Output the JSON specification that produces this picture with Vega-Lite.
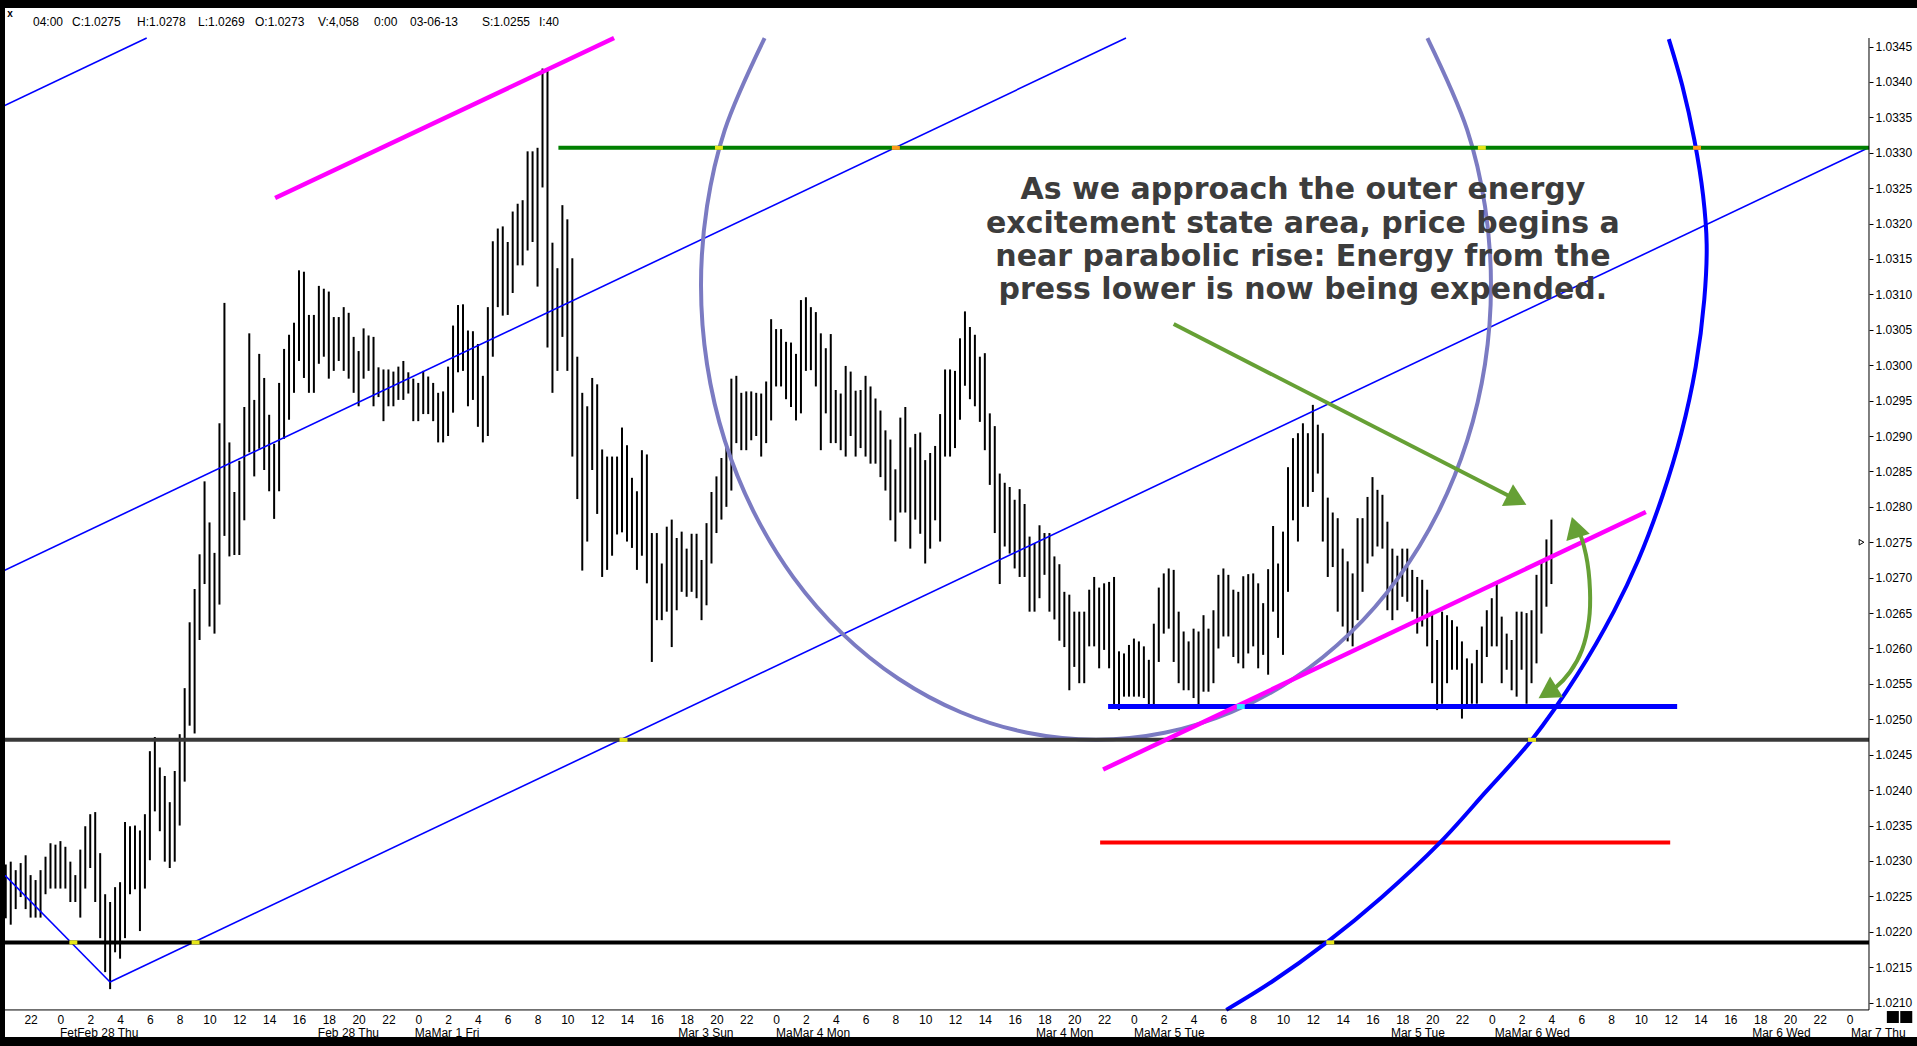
{
"$schema": "https://vega.github.io/schema/vega-lite/v6.json",
"width": 1912, "height": 1029, "autosize": "none",
"padding": {"left": 5, "top": 8, "right": 0, "bottom": 9},
"background": "#000000",
"config": {"view": {"fill": "white", "stroke": null}, "axis": {"grid": false, "domain": false, "title": null}},
"datasets": {
"bars": [
{"x":0,"y":1.02295,"y2":1.02219},{"x":1,"y":1.02299,"y2":1.02210},{"x":2,"y":1.02287,"y2":1.02232},{"x":3,"y":1.02297,"y2":1.02249},{"x":4,"y":1.02308,"y2":1.02232},{"x":5,"y":1.02280,"y2":1.02220},{"x":6,"y":1.02273,"y2":1.02220},{"x":7,"y":1.02287,"y2":1.02220},{"x":8,"y":1.02306,"y2":1.02253},{"x":9,"y":1.02325,"y2":1.02261},
{"x":10,"y":1.02323,"y2":1.02261},{"x":11,"y":1.02328,"y2":1.02261},{"x":12,"y":1.02320,"y2":1.02261},{"x":13,"y":1.02299,"y2":1.02242},{"x":14,"y":1.02280,"y2":1.02242},{"x":15,"y":1.02316,"y2":1.02220},{"x":16,"y":1.02349,"y2":1.02261},{"x":17,"y":1.02366,"y2":1.02290},{"x":18,"y":1.02369,"y2":1.02242},{"x":19,"y":1.02311,"y2":1.02191},
{"x":20,"y":1.02253,"y2":1.02143},{"x":21,"y":1.02242,"y2":1.02119},{"x":22,"y":1.02263,"y2":1.02171},{"x":23,"y":1.02270,"y2":1.02162},{"x":24,"y":1.02355,"y2":1.02191},{"x":25,"y":1.02349,"y2":1.02253},{"x":26,"y":1.02350,"y2":1.02260},{"x":27,"y":1.02343,"y2":1.02201},{"x":28,"y":1.02366,"y2":1.02261},{"x":29,"y":1.02455,"y2":1.02301},
{"x":30,"y":1.02475,"y2":1.02370},{"x":31,"y":1.02432,"y2":1.02342},{"x":32,"y":1.02420,"y2":1.02299},{"x":33,"y":1.02383,"y2":1.02290},{"x":34,"y":1.02427,"y2":1.02299},{"x":35,"y":1.02479,"y2":1.02350},{"x":36,"y":1.02544,"y2":1.02412},{"x":37,"y":1.02637,"y2":1.02491},{"x":38,"y":1.02684,"y2":1.02480},{"x":39,"y":1.02733,"y2":1.02612},
{"x":40,"y":1.02836,"y2":1.02691},{"x":41,"y":1.02778,"y2":1.02631},{"x":42,"y":1.02735,"y2":1.02621},{"x":43,"y":1.02918,"y2":1.02662},{"x":44,"y":1.03088,"y2":1.02759},{"x":45,"y":1.02891,"y2":1.02730},{"x":46,"y":1.02821,"y2":1.02732},{"x":47,"y":1.02865,"y2":1.02732},{"x":48,"y":1.02941,"y2":1.02781},{"x":49,"y":1.03045,"y2":1.02877},
{"x":50,"y":1.02951,"y2":1.02843},{"x":51,"y":1.03016,"y2":1.02882},{"x":52,"y":1.02982,"y2":1.02852},{"x":53,"y":1.02930,"y2":1.02822},{"x":54,"y":1.02889,"y2":1.02783},{"x":55,"y":1.02975,"y2":1.02822},{"x":56,"y":1.03023,"y2":1.02896},{"x":57,"y":1.03043,"y2":1.02923},{"x":58,"y":1.03060,"y2":1.02961},{"x":59,"y":1.03134,"y2":1.03006},
{"x":60,"y":1.03132,"y2":1.02982},{"x":61,"y":1.03071,"y2":1.02961},{"x":62,"y":1.03071,"y2":1.02961},{"x":63,"y":1.03112,"y2":1.03002},{"x":64,"y":1.03108,"y2":1.03012},{"x":65,"y":1.03104,"y2":1.02981},{"x":66,"y":1.03068,"y2":1.02992},{"x":67,"y":1.03068,"y2":1.03006},{"x":68,"y":1.03082,"y2":1.02992},{"x":69,"y":1.03074,"y2":1.02981},
{"x":70,"y":1.03040,"y2":1.02961},{"x":71,"y":1.03020,"y2":1.02942},{"x":72,"y":1.03052,"y2":1.02981},{"x":73,"y":1.03042,"y2":1.02992},{"x":74,"y":1.03040,"y2":1.02942},{"x":75,"y":1.02997,"y2":1.02955},{"x":76,"y":1.02994,"y2":1.02921},{"x":77,"y":1.02994,"y2":1.02942},{"x":78,"y":1.02991,"y2":1.02942},{"x":79,"y":1.02998,"y2":1.02951},
{"x":80,"y":1.03006,"y2":1.02951},{"x":81,"y":1.02990,"y2":1.02960},{"x":82,"y":1.02981,"y2":1.02921},{"x":83,"y":1.02975,"y2":1.02921},{"x":84,"y":1.02992,"y2":1.02931},{"x":85,"y":1.02984,"y2":1.02931},{"x":86,"y":1.02975,"y2":1.02921},{"x":87,"y":1.02961,"y2":1.02891},{"x":88,"y":1.02963,"y2":1.02891},{"x":89,"y":1.02998,"y2":1.02900},
{"x":90,"y":1.03056,"y2":1.02933},{"x":91,"y":1.03085,"y2":1.02990},{"x":92,"y":1.03086,"y2":1.02992},{"x":93,"y":1.03049,"y2":1.02942},{"x":94,"y":1.03048,"y2":1.02951},{"x":95,"y":1.03030,"y2":1.02913},{"x":96,"y":1.02985,"y2":1.02891},{"x":97,"y":1.03082,"y2":1.02900},{"x":98,"y":1.03175,"y2":1.03012},{"x":99,"y":1.03193,"y2":1.03082},
{"x":100,"y":1.03196,"y2":1.03070},{"x":101,"y":1.03174,"y2":1.03071},{"x":102,"y":1.03217,"y2":1.03102},{"x":103,"y":1.03228,"y2":1.03141},{"x":104,"y":1.03233,"y2":1.03141},{"x":105,"y":1.03302,"y2":1.03162},{"x":106,"y":1.03302,"y2":1.03174},{"x":107,"y":1.03307,"y2":1.03111},{"x":108,"y":1.03419,"y2":1.03251},{"x":109,"y":1.03419,"y2":1.03025},
{"x":110,"y":1.03173,"y2":1.02961},{"x":111,"y":1.03137,"y2":1.02992},{"x":112,"y":1.03226,"y2":1.03040},{"x":113,"y":1.03206,"y2":1.02992},{"x":114,"y":1.03151,"y2":1.02871},{"x":115,"y":1.03012,"y2":1.02811},{"x":116,"y":1.02961,"y2":1.02710},{"x":117,"y":1.02942,"y2":1.02751},{"x":118,"y":1.02982,"y2":1.02852},{"x":119,"y":1.02973,"y2":1.02790},
{"x":120,"y":1.02881,"y2":1.02701},{"x":121,"y":1.02871,"y2":1.02711},{"x":122,"y":1.02871,"y2":1.02731},{"x":123,"y":1.02871,"y2":1.02761},{"x":124,"y":1.02912,"y2":1.02764},{"x":125,"y":1.02887,"y2":1.02751},{"x":126,"y":1.02841,"y2":1.02742},{"x":127,"y":1.02822,"y2":1.02711},{"x":128,"y":1.02880,"y2":1.02731},{"x":129,"y":1.02874,"y2":1.02692},
{"x":130,"y":1.02763,"y2":1.02581},{"x":131,"y":1.02763,"y2":1.02640},{"x":132,"y":1.02720,"y2":1.02640},{"x":133,"y":1.02772,"y2":1.02652},{"x":134,"y":1.02782,"y2":1.02602},{"x":135,"y":1.02756,"y2":1.02654},{"x":136,"y":1.02765,"y2":1.02680},{"x":137,"y":1.02741,"y2":1.02673},{"x":138,"y":1.02762,"y2":1.02680},{"x":139,"y":1.02762,"y2":1.02671},
{"x":140,"y":1.02725,"y2":1.02640},{"x":141,"y":1.02777,"y2":1.02661},{"x":142,"y":1.02821,"y2":1.02720},{"x":143,"y":1.02843,"y2":1.02763},{"x":144,"y":1.02869,"y2":1.02782},{"x":145,"y":1.02885,"y2":1.02800},{"x":146,"y":1.02981,"y2":1.02823},{"x":147,"y":1.02985,"y2":1.02890},{"x":148,"y":1.02961,"y2":1.02880},{"x":149,"y":1.02963,"y2":1.02880},
{"x":150,"y":1.02963,"y2":1.02894},{"x":151,"y":1.02961,"y2":1.02900},{"x":152,"y":1.02960,"y2":1.02871},{"x":153,"y":1.02977,"y2":1.02890},{"x":154,"y":1.03065,"y2":1.02922},{"x":155,"y":1.03051,"y2":1.02970},{"x":156,"y":1.03051,"y2":1.02970},{"x":157,"y":1.03033,"y2":1.02952},{"x":158,"y":1.03032,"y2":1.02941},{"x":159,"y":1.03016,"y2":1.02922},
{"x":160,"y":1.03092,"y2":1.02932},{"x":161,"y":1.03096,"y2":1.02992},{"x":162,"y":1.03082,"y2":1.02993},{"x":163,"y":1.03075,"y2":1.02970},{"x":164,"y":1.03045,"y2":1.02880},{"x":165,"y":1.03024,"y2":1.02932},{"x":166,"y":1.03044,"y2":1.02890},{"x":167,"y":1.02965,"y2":1.02890},{"x":168,"y":1.02960,"y2":1.02880},{"x":169,"y":1.02999,"y2":1.02871},
{"x":170,"y":1.02991,"y2":1.02900},{"x":171,"y":1.02964,"y2":1.02871},{"x":172,"y":1.02965,"y2":1.02883},{"x":173,"y":1.02985,"y2":1.02871},{"x":174,"y":1.02970,"y2":1.02861},{"x":175,"y":1.02953,"y2":1.02861},{"x":176,"y":1.02936,"y2":1.02842},{"x":177,"y":1.02908,"y2":1.02823},{"x":178,"y":1.02895,"y2":1.02781},{"x":179,"y":1.02853,"y2":1.02751},
{"x":180,"y":1.02926,"y2":1.02792},{"x":181,"y":1.02941,"y2":1.02792},{"x":182,"y":1.02884,"y2":1.02741},{"x":183,"y":1.02903,"y2":1.02782},{"x":184,"y":1.02905,"y2":1.02762},{"x":185,"y":1.02866,"y2":1.02720},{"x":186,"y":1.02876,"y2":1.02741},{"x":187,"y":1.02886,"y2":1.02781},{"x":188,"y":1.02931,"y2":1.02751},{"x":189,"y":1.02994,"y2":1.02871},
{"x":190,"y":1.02994,"y2":1.02871},{"x":191,"y":1.02992,"y2":1.02883},{"x":192,"y":1.03038,"y2":1.02923},{"x":193,"y":1.03076,"y2":1.02971},{"x":194,"y":1.03054,"y2":1.02952},{"x":195,"y":1.03043,"y2":1.02942},{"x":196,"y":1.03012,"y2":1.02920},{"x":197,"y":1.03017,"y2":1.02880},{"x":198,"y":1.02932,"y2":1.02831},{"x":199,"y":1.02914,"y2":1.02763},
{"x":200,"y":1.02847,"y2":1.02691},{"x":201,"y":1.02834,"y2":1.02744},{"x":202,"y":1.02828,"y2":1.02734},{"x":203,"y":1.02810,"y2":1.02713},{"x":204,"y":1.02825,"y2":1.02701},{"x":205,"y":1.02804,"y2":1.02701},{"x":206,"y":1.02758,"y2":1.02652},{"x":207,"y":1.02749,"y2":1.02652},{"x":208,"y":1.02774,"y2":1.02671},{"x":209,"y":1.02763,"y2":1.02704},
{"x":210,"y":1.02763,"y2":1.02652},{"x":211,"y":1.02730,"y2":1.02641},{"x":212,"y":1.02719,"y2":1.02611},{"x":213,"y":1.02680,"y2":1.02602},{"x":214,"y":1.02676,"y2":1.02541},{"x":215,"y":1.02652,"y2":1.02574},{"x":216,"y":1.02652,"y2":1.02551},{"x":217,"y":1.02652,"y2":1.02551},{"x":218,"y":1.02683,"y2":1.02603},{"x":219,"y":1.02701,"y2":1.02603},
{"x":220,"y":1.02686,"y2":1.02572},{"x":221,"y":1.02692,"y2":1.02598},{"x":222,"y":1.02694,"y2":1.02572},{"x":223,"y":1.02701,"y2":1.02519},{"x":224,"y":1.02596,"y2":1.02513},{"x":225,"y":1.02593,"y2":1.02532},{"x":226,"y":1.02605,"y2":1.02532},{"x":227,"y":1.02614,"y2":1.02532},{"x":228,"y":1.02610,"y2":1.02532},{"x":229,"y":1.02603,"y2":1.02530},
{"x":230,"y":1.02584,"y2":1.02519},{"x":231,"y":1.02635,"y2":1.02519},{"x":232,"y":1.02686,"y2":1.02581},{"x":233,"y":1.02706,"y2":1.02621},{"x":234,"y":1.02713,"y2":1.02628},{"x":235,"y":1.02711,"y2":1.02581},{"x":236,"y":1.02652,"y2":1.02551},{"x":237,"y":1.02624,"y2":1.02541},{"x":238,"y":1.02610,"y2":1.02541},{"x":239,"y":1.02628,"y2":1.02530},
{"x":240,"y":1.02624,"y2":1.02519},{"x":241,"y":1.02647,"y2":1.02539},{"x":242,"y":1.02628,"y2":1.02539},{"x":243,"y":1.02654,"y2":1.02551},{"x":244,"y":1.02704,"y2":1.02600},{"x":245,"y":1.02713,"y2":1.02617},{"x":246,"y":1.02704,"y2":1.02617},{"x":247,"y":1.02683,"y2":1.02588},{"x":248,"y":1.02680,"y2":1.02579},{"x":249,"y":1.02702,"y2":1.02572},
{"x":250,"y":1.02705,"y2":1.02593},{"x":251,"y":1.02706,"y2":1.02603},{"x":252,"y":1.02692,"y2":1.02572},{"x":253,"y":1.02664,"y2":1.02591},{"x":254,"y":1.02712,"y2":1.02563},{"x":255,"y":1.02773,"y2":1.02652},{"x":256,"y":1.02720,"y2":1.02615},{"x":257,"y":1.02765,"y2":1.02591},{"x":258,"y":1.02856,"y2":1.02680},{"x":259,"y":1.02897,"y2":1.02781},
{"x":260,"y":1.02904,"y2":1.02751},{"x":261,"y":1.02918,"y2":1.02800},{"x":262,"y":1.02904,"y2":1.02800},{"x":263,"y":1.02944,"y2":1.02821},{"x":264,"y":1.02916,"y2":1.02847},{"x":265,"y":1.02904,"y2":1.02751},{"x":266,"y":1.02813,"y2":1.02701},{"x":267,"y":1.02792,"y2":1.02715},{"x":268,"y":1.02784,"y2":1.02652},{"x":269,"y":1.02741,"y2":1.02631},
{"x":270,"y":1.02723,"y2":1.02610},{"x":271,"y":1.02706,"y2":1.02603},{"x":272,"y":1.02784,"y2":1.02640},{"x":273,"y":1.02784,"y2":1.02680},{"x":274,"y":1.02814,"y2":1.02720},{"x":275,"y":1.02842,"y2":1.02730},{"x":276,"y":1.02824,"y2":1.02744},{"x":277,"y":1.02817,"y2":1.02741},{"x":278,"y":1.02779,"y2":1.02654},{"x":279,"y":1.02741,"y2":1.02640},
{"x":280,"y":1.02731,"y2":1.02654},{"x":281,"y":1.02741,"y2":1.02673},{"x":282,"y":1.02741,"y2":1.02666},{"x":283,"y":1.02711,"y2":1.02652},{"x":284,"y":1.02701,"y2":1.02621},{"x":285,"y":1.02697,"y2":1.02631},{"x":286,"y":1.02683,"y2":1.02603},{"x":287,"y":1.02652,"y2":1.02551},{"x":288,"y":1.02612,"y2":1.02513},{"x":289,"y":1.02652,"y2":1.02522},
{"x":290,"y":1.02647,"y2":1.02551},{"x":291,"y":1.02640,"y2":1.02570},{"x":292,"y":1.02631,"y2":1.02570},{"x":293,"y":1.02610,"y2":1.02501},{"x":294,"y":1.02586,"y2":1.02520},{"x":295,"y":1.02579,"y2":1.02522},{"x":296,"y":1.02598,"y2":1.02522},{"x":297,"y":1.02631,"y2":1.02551},{"x":298,"y":1.02654,"y2":1.02588},{"x":299,"y":1.02671,"y2":1.02603},
{"x":300,"y":1.02692,"y2":1.02603},{"x":301,"y":1.02645,"y2":1.02551},{"x":302,"y":1.02621,"y2":1.02570},{"x":303,"y":1.02612,"y2":1.02541},{"x":304,"y":1.02652,"y2":1.02532},{"x":305,"y":1.02652,"y2":1.02570},{"x":306,"y":1.02650,"y2":1.02522},{"x":307,"y":1.02654,"y2":1.02551},{"x":308,"y":1.02704,"y2":1.02579},{"x":309,"y":1.02723,"y2":1.02621},
{"x":310,"y":1.02754,"y2":1.02659},{"x":311,"y":1.02782,"y2":1.02691}
],
"thinBlue": [
{"x":-1.157,"y":1.033637,"x2":28.36,"y2":1.03462},
{"x":-1.157,"y":1.027074,"x2":225.4,"y2":1.03462},
{"x":20.98,"y":1.021291,"x2":374.9,"y2":1.033075},
{"x":-1.157,"y":1.022869,"x2":20.98,"y2":1.021291}
],
"magenta": [
{"x":54.2,"y":1.03236,"x2":122.4,"y2":1.03462},
{"x":220.8,"y":1.024291,"x2":330.0,"y2":1.027927}
],
"greenH": [{"x":111.2,"y":1.03307,"x2":374.9,"y2":1.03307}],
"greyH": [{"x":-0.15,"y":1.02471,"x2":374.9,"y2":1.02471}],
"blackH": [{"x":-0.15,"y":1.02185,"x2":374.9,"y2":1.02185}],
"redH": [{"x":220.2,"y":1.02326,"x2":334.9,"y2":1.02326}],
"blueH": [{"x":221.8,"y":1.02518,"x2":336.3,"y2":1.02518}],
"yellowDots": [
{"x":12.8,"y":1.02185,"x2":14.4,"y2":1.02185},
{"x":37.4,"y":1.02185,"x2":39.0,"y2":1.02185},
{"x":265.7,"y":1.02185,"x2":267.3,"y2":1.02185},
{"x":123.5,"y":1.02471,"x2":125.1,"y2":1.02471},
{"x":306.3,"y":1.02471,"x2":307.9,"y2":1.02471},
{"x":142.7,"y":1.03307,"x2":144.3,"y2":1.03307},
{"x":296.2,"y":1.03307,"x2":297.8,"y2":1.03307}
],
"orangeDots": [
{"x":178.3,"y":1.03307,"x2":179.9,"y2":1.03307},
{"x":339.5,"y":1.03307,"x2":341.1,"y2":1.03307}
],
"cyanDots": [
{"x":247.7,"y":1.02518,"x2":249.3,"y2":1.02518}
],
"axisLines": [
{"x":-0.15,"y":1.020896,"x2":374.9,"y2":1.020896},
{"x":374.9,"y":1.020896,"x2":374.9,"y2":1.03462}
],
"ellipse": [
{"k":1,"x":152.69,"y":1.03462},{"k":2,"x":144.68,"y":1.033324},{"k":3,"x":141.10,"y":1.032244},{"k":4,"x":139.89,"y":1.03113},{"k":5,"x":141.10,"y":1.030016},{"k":6,"x":144.68,"y":1.028935},{"k":7,"x":150.55,"y":1.027922},{"k":8,"x":158.48,"y":1.027005},{"k":9,"x":168.28,"y":1.026214},{"k":10,"x":179.63,"y":1.025573},{"k":11,"x":192.18,"y":1.0251},{"k":12,"x":205.56,"y":1.024811},{"k":13,"x":219.37,"y":1.024713},{"k":14,"x":233.17,"y":1.024811},{"k":15,"x":246.55,"y":1.0251},{"k":16,"x":259.11,"y":1.025573},{"k":17,"x":270.45,"y":1.026214},{"k":18,"x":280.25,"y":1.027005},{"k":19,"x":288.2,"y":1.027922},{"k":20,"x":294.05,"y":1.028935},{"k":21,"x":297.64,"y":1.030016},{"k":22,"x":298.84,"y":1.03113},{"k":23,"x":297.64,"y":1.032244},{"k":24,"x":294.05,"y":1.033324},{"k":25,"x":286.05,"y":1.03462}
],
"arc": [
{"k":1,"x":245.58,"y":1.020897},{"k":2,"x":254.68,"y":1.021291},{"k":3,"x":265.74,"y":1.021847},{"k":4,"x":276.81,"y":1.022485},{"k":5,"x":288.62,"y":1.023262},{"k":6,"x":297.74,"y":1.023971},{"k":7,"x":307.07,"y":1.024712},{"k":8,"x":316.19,"y":1.025627},{"k":9,"x":323.57,"y":1.026525},{"k":10,"x":328.48,"y":1.027249},{"k":11,"x":333.39,"y":1.028164},{"k":12,"x":337.09,"y":1.029028},{"k":13,"x":340.03,"y":1.029977},{"k":14,"x":341.76,"y":1.030928},{"k":15,"x":342.24,"y":1.031704},{"k":16,"x":341.52,"y":1.032395},{"k":17,"x":339.79,"y":1.033171},{"k":18,"x":337.33,"y":1.033948},{"k":19,"x":334.62,"y":1.034604}
],
"arrowShaft": [{"x":235.0,"y":1.030582,"x2":304.06,"y2":1.028097}],
"arrowHeadA": [{"x":304.06,"y":1.028097}],
"curve": [
{"k":1,"x":315.74,"y":1.027713},{"k":2,"x":316.35,"y":1.027673},{"k":3,"x":317.96,"y":1.02732},{"k":4,"x":318.76,"y":1.026826},{"k":5,"x":318.56,"y":1.026402},{"k":6,"x":317.15,"y":1.025979},{"k":7,"x":314.74,"y":1.025668},{"k":8,"x":311.72,"y":1.025442},{"k":9,"x":310.23,"y":1.025378}
],
"headTop": [{"x":315.74,"y":1.027713}],
"headBottom": [{"x":310.23,"y":1.025378}],
"note": [
{"x":261.0,"y":1.032481,"t":"As we approach the outer energy"},
{"x":261.0,"y":1.032001,"t":"excitement state area, price begins a"},
{"x":261.0,"y":1.031528,"t":"near parabolic rise: Energy from the"},
{"x":261.0,"y":1.031062,"t":"press lower is now being expended."}
],
"dates": [
{"x":10.9,"y":1.020571,"t":"FetFeb 28 Thu"},
{"x":62.8,"y":1.020571,"t":"Feb 28 Thu"},
{"x":82.3,"y":1.020571,"t":"MaMar 1 Fri"},
{"x":135.3,"y":1.020571,"t":"Mar 3 Sun"},
{"x":155.0,"y":1.020571,"t":"MaMar 4 Mon"},
{"x":207.3,"y":1.020571,"t":"Mar 4 Mon"},
{"x":227.0,"y":1.020571,"t":"MaMar 5 Tue"},
{"x":278.7,"y":1.020571,"t":"Mar 5 Tue"},
{"x":299.6,"y":1.020571,"t":"MaMar 6 Wed"},
{"x":351.4,"y":1.020571,"t":"Mar 6 Wed"},
{"x":371.3,"y":1.020571,"t":"Mar 7 Thu"}
],
"header": [
{"x":5.48,"y":1.034846,"t":"04:00"},
{"x":13.33,"y":1.034846,"t":"C:1.0275"},
{"x":26.41,"y":1.034846,"t":"H:1.0278"},
{"x":38.68,"y":1.034846,"t":"L:1.0269"},
{"x":50.15,"y":1.034846,"t":"O:1.0273"},
{"x":62.83,"y":1.034846,"t":"V:4,058"},
{"x":74.09,"y":1.034846,"t":"0:00"},
{"x":81.34,"y":1.034846,"t":"03-06-13"},
{"x":95.82,"y":1.034846,"t":"S:1.0255"},
{"x":107.3,"y":1.034846,"t":"I:40"}
],
"corner": [{"x":0.86,"y":1.034959,"t":"x"}],
"squares": [{"x":379.7,"y":1.020796},{"x":382.4,"y":1.020796}],
"priceMark": [{"x":373.4,"y":1.0275}]
},
"encoding": {
"x": {"field": "x", "type": "quantitative",
 "scale": {"domain": [-0.151, 384.56], "nice": false, "zero": false},
 "axis": {"orient": "bottom", "offset": -27, "ticks": false, "labelPadding": 4, "labelBaseline": "top",
  "values": [5,11,17,23,29,35,41,47,53,59,65,71,77,83,89,95,101,107,113,119,125,131,137,143,149,155,161,167,173,179,185,191,197,203,209,215,221,227,233,239,245,251,257,263,269,275,281,287,293,299,305,311,317,323,329,335,341,347,353,359,365,371],
  "labelExpr": "'' + ((22 + (datum.value - 5) / 3) % 24)",
  "labelFont": "Liberation Sans", "labelFontSize": 12, "labelColor": "#000000", "labelFlush": false, "labelOverlap": false}},
"y": {"field": "y", "type": "quantitative",
 "scale": {"domain": [1.020514, 1.035044], "nice": false, "zero": false},
 "axis": {"orient": "right", "offset": -48, "ticks": true, "tickSize": 4, "tickColor": "#000000", "labelPadding": 2,
  "values": [1.021,1.0215,1.022,1.0225,1.023,1.0235,1.024,1.0245,1.025,1.0255,1.026,1.0265,1.027,1.0275,1.028,1.0285,1.029,1.0295,1.03,1.0305,1.031,1.0315,1.032,1.0325,1.033,1.0335,1.034,1.0345],
  "format": ".4f", "labelFont": "Liberation Sans", "labelFontSize": 12, "labelColor": "#000000", "labelFlush": false, "labelOverlap": false}}
},
"layer": [
{"data": {"name": "bars"}, "mark": {"type": "rule", "color": "#000000", "strokeWidth": 2}, "encoding": {"y2": {"field": "y2"}}},
{"data": {"name": "thinBlue"}, "mark": {"type": "rule", "color": "#0000ff", "strokeWidth": 1.6, "clip": true}, "encoding": {"x2": {"field": "x2"}, "y2": {"field": "y2"}}},
{"data": {"name": "ellipse"}, "mark": {"type": "line", "color": "#7b7bc2", "strokeWidth": 4, "interpolate": "catmull-rom", "clip": true}, "encoding": {"order": {"field": "k"}}},
{"data": {"name": "greyH"}, "mark": {"type": "rule", "color": "#383838", "strokeWidth": 4, "clip": true}, "encoding": {"x2": {"field": "x2"}, "y2": {"field": "y2"}}},
{"data": {"name": "blackH"}, "mark": {"type": "rule", "color": "#000000", "strokeWidth": 4, "clip": true}, "encoding": {"x2": {"field": "x2"}, "y2": {"field": "y2"}}},
{"data": {"name": "greenH"}, "mark": {"type": "rule", "color": "#008000", "strokeWidth": 4}, "encoding": {"x2": {"field": "x2"}, "y2": {"field": "y2"}}},
{"data": {"name": "redH"}, "mark": {"type": "rule", "color": "#ff0000", "strokeWidth": 4}, "encoding": {"x2": {"field": "x2"}, "y2": {"field": "y2"}}},
{"data": {"name": "blueH"}, "mark": {"type": "rule", "color": "#0000ff", "strokeWidth": 5}, "encoding": {"x2": {"field": "x2"}, "y2": {"field": "y2"}}},
{"data": {"name": "magenta"}, "mark": {"type": "rule", "color": "#ff00ff", "strokeWidth": 4.5}, "encoding": {"x2": {"field": "x2"}, "y2": {"field": "y2"}}},
{"data": {"name": "arc"}, "mark": {"type": "line", "color": "#0000ff", "strokeWidth": 4, "interpolate": "catmull-rom", "clip": true}, "encoding": {"order": {"field": "k"}}},
{"data": {"name": "yellowDots"}, "mark": {"type": "rule", "color": "#e6e619", "strokeWidth": 4}, "encoding": {"x2": {"field": "x2"}, "y2": {"field": "y2"}}},
{"data": {"name": "orangeDots"}, "mark": {"type": "rule", "color": "#ff9a1a", "strokeWidth": 4}, "encoding": {"x2": {"field": "x2"}, "y2": {"field": "y2"}}},
{"data": {"name": "cyanDots"}, "mark": {"type": "rule", "color": "#33e6ff", "strokeWidth": 5}, "encoding": {"x2": {"field": "x2"}, "y2": {"field": "y2"}}},
{"data": {"name": "arrowShaft"}, "mark": {"type": "rule", "color": "#66a035", "strokeWidth": 4}, "encoding": {"x2": {"field": "x2"}, "y2": {"field": "y2"}}},
{"data": {"name": "arrowHeadA"}, "mark": {"type": "point", "shape": "triangle-right", "angle": 27, "size": 600, "filled": true, "color": "#66a035", "opacity": 1}},
{"data": {"name": "curve"}, "mark": {"type": "line", "color": "#66a035", "strokeWidth": 4, "interpolate": "catmull-rom"}, "encoding": {"order": {"field": "k"}}},
{"data": {"name": "headTop"}, "mark": {"type": "point", "shape": "triangle-right", "angle": 253, "size": 600, "filled": true, "color": "#66a035", "opacity": 1}},
{"data": {"name": "headBottom"}, "mark": {"type": "point", "shape": "triangle-right", "angle": 148, "size": 600, "filled": true, "color": "#66a035", "opacity": 1}},
{"data": {"name": "axisLines"}, "mark": {"type": "rule", "color": "#000000", "strokeWidth": 1}, "encoding": {"x2": {"field": "x2"}, "y2": {"field": "y2"}}},
{"data": {"name": "note"}, "mark": {"type": "text", "font": "DejaVu Sans", "fontWeight": "bold", "fontSize": 30, "color": "#3c3c3c", "align": "center", "baseline": "middle"}, "encoding": {"text": {"field": "t"}}},
{"data": {"name": "dates"}, "mark": {"type": "text", "font": "Liberation Sans", "fontSize": 12, "color": "#000000", "align": "left", "baseline": "middle"}, "encoding": {"text": {"field": "t"}}},
{"data": {"name": "header"}, "mark": {"type": "text", "font": "Liberation Sans Narrow, Liberation Sans", "fontSize": 12, "color": "#000000", "align": "left", "baseline": "middle"}, "encoding": {"text": {"field": "t"}}},
{"data": {"name": "corner"}, "mark": {"type": "text", "font": "Liberation Sans", "fontWeight": "bold", "fontSize": 10, "color": "#000000", "align": "center", "baseline": "middle"}, "encoding": {"text": {"field": "t"}}},
{"data": {"name": "squares"}, "mark": {"type": "point", "shape": "square", "size": 144, "filled": true, "color": "#000000", "opacity": 1}},
{"data": {"name": "priceMark"}, "mark": {"type": "point", "shape": "triangle-right", "size": 30, "filled": false, "color": "#000000", "strokeWidth": 1, "opacity": 1}}
]
}
